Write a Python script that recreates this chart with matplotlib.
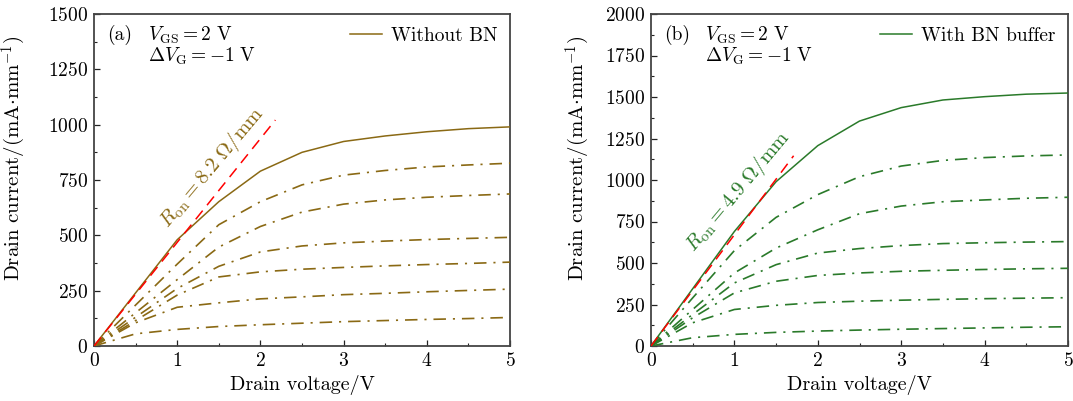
import matplotlib
matplotlib.use("Agg")
import matplotlib.pyplot as plt
from matplotlib.ticker import MultipleLocator

plt.rcParams['font.family'] = 'serif'
plt.rcParams['font.serif'] = ['cmr10']
plt.rcParams['mathtext.fontset'] = 'cm'
plt.rcParams['axes.formatter.use_mathtext'] = True
plt.rcParams['lines.scale_dashes'] = False

# ---------------- data ----------------
vd = [0, 0.5, 1.0, 1.5, 2.0, 2.5, 3.0, 3.5, 4.0, 4.5, 5.0]

# (a) without BN: top solid curve, then dash-dot curves (VGS = 1, 0, -1, -2, -3, -4 V)
a_top = [0, 240, 480, 652, 790, 875, 924, 949, 968, 982, 990]
a_c1 = [0, 185, 370, 548, 652, 728, 772, 793, 809, 818, 826]
a_c2 = [0, 150, 300, 447, 540, 605, 641, 660, 672, 680, 687]
a_c3 = [0, 130, 260, 360, 425, 452, 466, 474, 481, 486, 491]
a_c4 = [0, 115, 230, 312, 335, 347, 355, 362, 368, 373, 379]
a_c5 = [0, 105, 175, 195, 213, 222, 232, 238, 245, 251, 257]
a_c6 = [0, 55, 75, 88, 96, 103, 110, 115, 120, 124, 129]
a_fit_x = [0, 2.18]
a_fit_y = [0, 1021]

# (b) with BN buffer
b_top = [0, 345, 690, 990, 1207, 1355, 1436, 1482, 1502, 1517, 1524]
b_c1 = [0, 290, 575, 775, 912, 1020, 1084, 1118, 1135, 1145, 1151]
b_c2 = [0, 220, 440, 590, 700, 797, 843, 869, 880, 890, 896]
b_c3 = [0, 190, 380, 490, 560, 587, 605, 617, 622, 626, 629]
b_c4 = [0, 170, 320, 390, 425, 440, 450, 456, 461, 465, 468]
b_c5 = [0, 140, 220, 245, 262, 270, 276, 281, 285, 288, 291]
b_c6 = [0, 50, 70, 82, 90, 96, 101, 105, 109, 113, 116]
b_fit_x = [0, 1.71]
b_fit_y = [0, 1146]

olive = '#8a6914'
green = '#2a7a2a'
red = '#ff0000'
spine_c = '#444444'

fig = plt.figure(figsize=(10.73, 4.01), dpi=100)
ax1 = fig.add_axes([94/1073, 55/401, 416/1073, 332/401])
ax2 = fig.add_axes([651/1073, 55/401, 417/1073, 332/401])

dd = (0, (9, 5, 1.5, 5))

def panel(ax, top, curves, fx, fy, color, ymax, label, tag, ron, ron_xy, ylab_x):
    ax.plot(vd, top, color=color, lw=1.1, label=label, zorder=3)
    for c in curves:
        ax.plot(vd, c, color=color, lw=1.2, linestyle=dd, zorder=3)
    ax.plot(fx, fy, color=red, lw=1.1, linestyle=(0, (8, 5)), zorder=4)
    ax.set_xlim(0, 5)
    ax.set_ylim(0, ymax)
    ax.xaxis.set_major_locator(MultipleLocator(1))
    ax.xaxis.set_minor_locator(MultipleLocator(0.5))
    ax.yaxis.set_major_locator(MultipleLocator(250))
    ax.yaxis.set_minor_locator(MultipleLocator(125))
    ax.tick_params(which='both', direction='in', top=False, right=False,
                   color='#222222', labelsize=14)
    ax.tick_params(which='major', length=4, width=0.9, pad=4)
    ax.tick_params(which='minor', length=2.5, width=0.8)
    for s in ax.spines.values():
        s.set_color(spine_c)
        s.set_linewidth(1.3)
    ax.set_xlabel('Drain voltage/V', fontsize=14.5, labelpad=4)
    ax.set_ylabel(r'Drain current/(mA$\cdot$mm$^{-1}$)', fontsize=15)
    ax.yaxis.set_label_coords(ylab_x, 0.566)
    ax.text(0.031, 0.967, tag, transform=ax.transAxes, fontsize=14, va='top', ha='left')
    ax.text(0.13, 0.967, r'$V_{\rm GS} = 2\ {\rm V}$', transform=ax.transAxes,
            fontsize=14, va='top', ha='left')
    ax.text(0.13, 0.905, r'$\Delta V_{\rm G} = -1\ {\rm V}$', transform=ax.transAxes,
            fontsize=14, va='top', ha='left')
    ax.text(ron_xy[0], ron_xy[1], ron, color=color, fontsize=15, rotation=50,
            ha='center', va='center', rotation_mode='anchor')
    ax.legend(loc='upper right', frameon=False, fontsize=14, handlelength=1.65,
              borderaxespad=0.3, borderpad=0.35, handletextpad=0.45)

panel(ax1, a_top, [a_c1, a_c2, a_c3, a_c4, a_c5, a_c6], a_fit_x, a_fit_y, olive, 1500,
      'Without BN', '(a)', r'$R_{\rm on} = 8.2\ \Omega/{\rm mm}$', (1.42, 809), -0.158)
panel(ax2, b_top, [b_c1, b_c2, b_c3, b_c4, b_c5, b_c6], b_fit_x, b_fit_y, green, 2000,
      'With BN buffer', '(b)', r'$R_{\rm on} = 4.9\ \Omega/{\rm mm}$', (1.04, 934), -0.142)

fig.savefig('out.png', dpi=100)
